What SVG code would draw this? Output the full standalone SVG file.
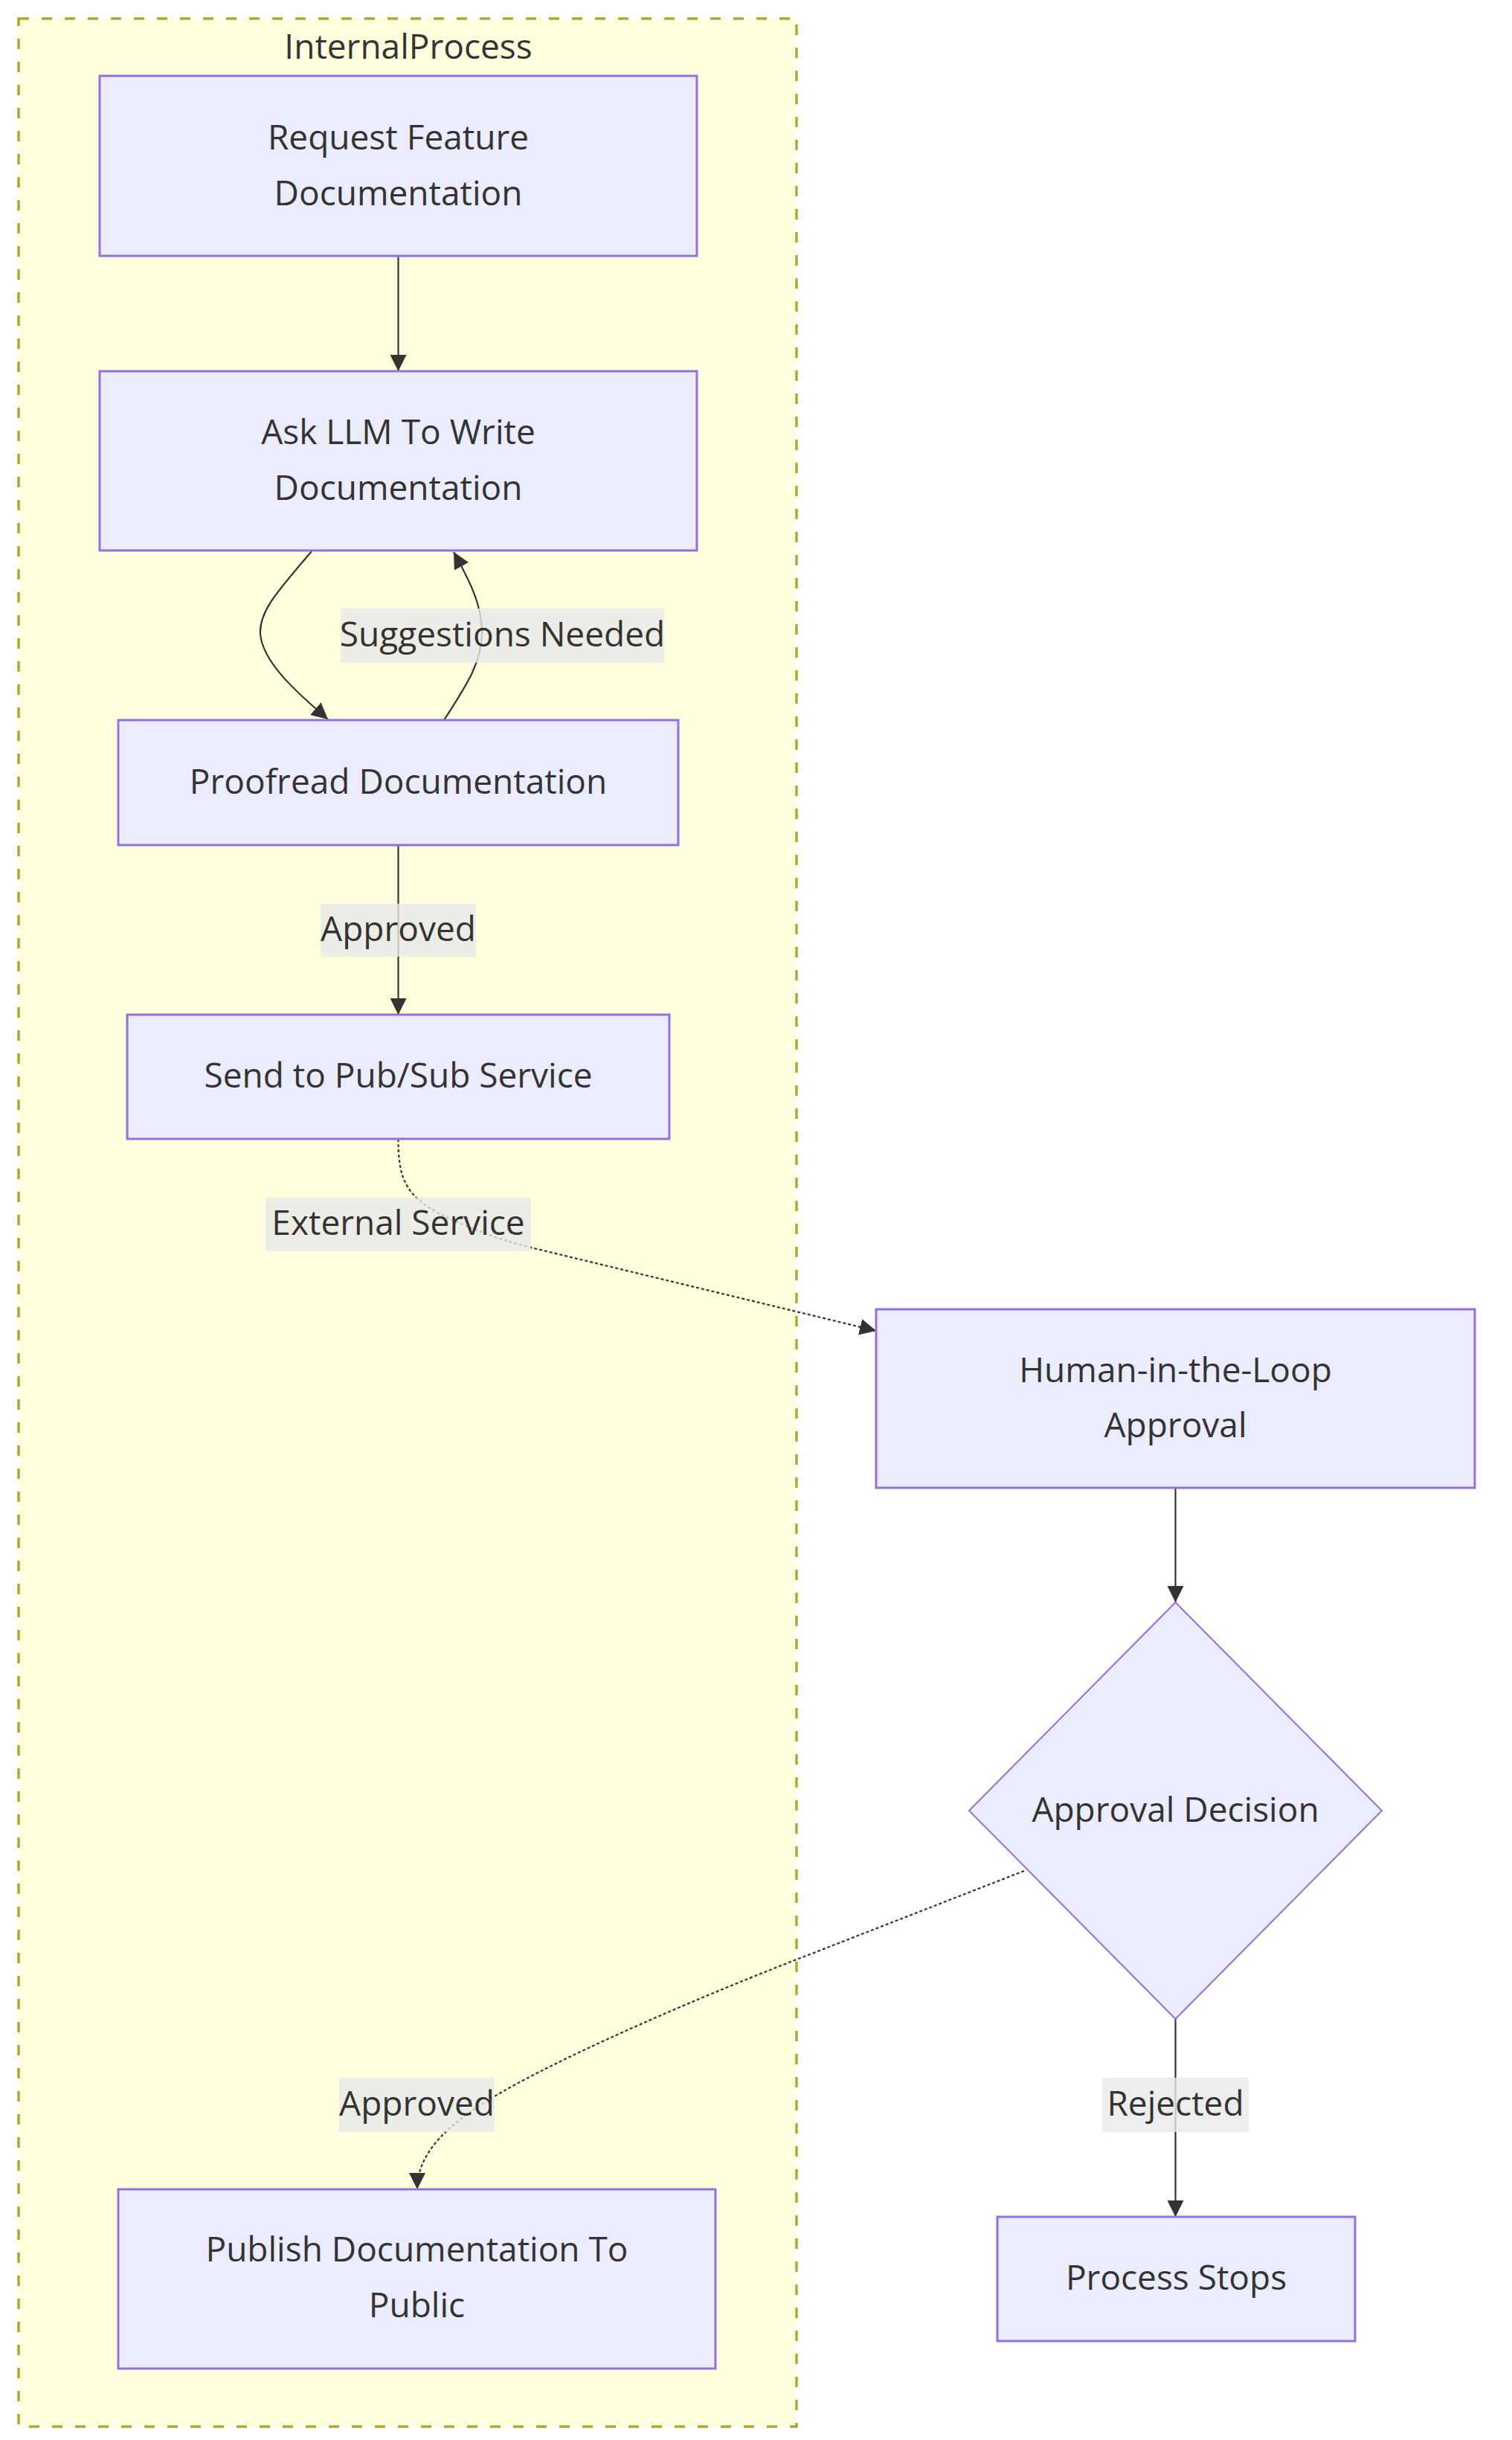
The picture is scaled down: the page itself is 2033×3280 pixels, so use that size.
<svg xmlns="http://www.w3.org/2000/svg" width="2033" height="3280" viewBox="0 0 2033 3280">
<style>
.cluster{fill:#ffffde;stroke:#aaaa33;stroke-width:3.5;stroke-dasharray:14 17}
.node{fill:#ececff;stroke:#9370db;stroke-width:3}
.dia{fill:#ececff;stroke:#9370db;stroke-width:2}
.t{font-family:"Open Sans","Liberation Sans",sans-serif;font-size:46px;fill:#333;text-anchor:middle}
.e{fill:none;stroke:#333;stroke-width:2.2}
.d{fill:none;stroke:#333;stroke-width:2.2;stroke-dasharray:4 3}
.lb{fill:#e8e8e8;fill-opacity:0.8}
</style>
<defs>
<marker id="arr" viewBox="0 0 10 10" refX="10" refY="5" markerUnits="userSpaceOnUse" markerWidth="22" markerHeight="22" orient="auto">
<path d="M0,0 L10,5 L0,10 z" fill="#333"/>
</marker>
</defs>
<rect width="2033" height="3280" fill="#ffffff"/>
<g id="InternalProcess">
<rect class="cluster" x="25" y="25" width="1046" height="3237"/>
<text class="t" x="549" y="79">InternalProcess</text>
</g>
<g id="edges">
<path class="e" d="M535.5,344 L535.5,499" marker-end="url(#arr)"/>
<path class="e" d="M419,741 C378,790 348,820 350,852 C353,890 398,930 441,967" marker-end="url(#arr)"/>
<path class="e" d="M597,968 C628,920 648,890 648,850 C648,810 628,775 610,742" marker-end="url(#arr)"/>
<path class="e" d="M535.5,1136 L535.5,1364" marker-end="url(#arr)"/>
<path class="d" d="M535.5,1531 C535.5,1580 543,1605 588,1630 C638,1655 678,1668 718,1678 L1178,1789" marker-end="url(#arr)"/>
<path class="e" d="M1580.5,2000 L1580.5,2154" marker-end="url(#arr)"/>
<path class="d" d="M1377,2515 L1097,2624 C897,2701 747,2771 677,2811 C607,2851 561,2891 561,2943" marker-end="url(#arr)"/>
<path class="e" d="M1580.5,2714 L1580.5,2980" marker-end="url(#arr)"/>
<g id="edge-labels">
<rect class="lb" x="458" y="818" width="435" height="73"/>
<text class="t" x="675.5" y="869">Suggestions Needed</text>
<rect class="lb" x="431" y="1215" width="209" height="71"/>
<text class="t" x="535.5" y="1265">Approved</text>
<rect class="lb" x="357" y="1610" width="357" height="72"/>
<text class="t" x="535.5" y="1660">External Service</text>
<rect class="lb" x="456" y="2793" width="209" height="73"/>
<text class="t" x="560.5" y="2844">Approved</text>
<rect class="lb" x="1482" y="2793" width="197" height="73"/>
<text class="t" x="1580.5" y="2844">Rejected</text>
</g>
</g>
<g id="A">
<rect class="node" x="134" y="102" width="803" height="242"/>
<text class="t" x="535.5" y="201">Request Feature</text>
<text class="t" x="535.5" y="276">Documentation</text>
</g>
<g id="B">
<rect class="node" x="134" y="499" width="803" height="241"/>
<text class="t" x="535.5" y="597">Ask LLM To Write</text>
<text class="t" x="535.5" y="672">Documentation</text>
</g>
<g id="C">
<rect class="node" x="159" y="968" width="753" height="168"/>
<text class="t" x="535.5" y="1067">Proofread Documentation</text>
</g>
<g id="D">
<rect class="node" x="171" y="1364" width="729" height="167"/>
<text class="t" x="535.5" y="1462">Send to Pub/Sub Service</text>
</g>
<g id="E">
<rect class="node" x="1178" y="1760" width="805" height="240"/>
<text class="t" x="1580.5" y="1858">Human-in-the-Loop</text>
<text class="t" x="1580.5" y="1932">Approval</text>
</g>
<g id="F">
<polygon class="dia" points="1580.5,2154 1858,2434 1580.5,2714 1303,2434"/>
<text class="t" x="1580.5" y="2449">Approval Decision</text>
</g>
<g id="G">
<rect class="node" x="1341" y="2980" width="481" height="167"/>
<text class="t" x="1581.5" y="3078">Process Stops</text>
</g>
<g id="H">
<rect class="node" x="159" y="2943" width="803" height="241"/>
<text class="t" x="560.5" y="3040">Publish Documentation To</text>
<text class="t" x="560.5" y="3115">Public</text>
</g>
</svg>
